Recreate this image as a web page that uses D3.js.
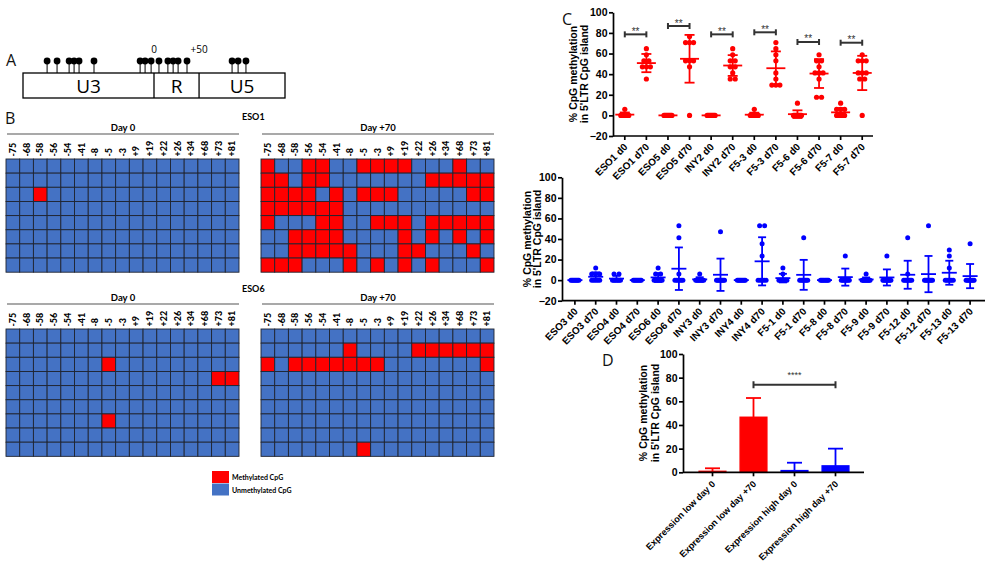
<!DOCTYPE html>
<html><head><meta charset="utf-8">
<script src="https://cdn.jsdelivr.net/npm/d3@7"></script>
<style>body{margin:0;background:#fff} svg{display:block}</style>
</head><body>
<svg id="c" width="992" height="562"></svg>
<script>
// ---------------- DATA ----------------
const cpgSites = ["-75","-68","-58","-56","-54","-41","-8","-5","-3","+9","+19","+22","+26","+34","+68","+73","+81"];
// schematic position of each CpG along the LTR bar (0-100 schematic units)
const cpgSchematicPos = [9.2,13,17.6,19.5,21.4,27.1,44.7,46.6,48.9,51.9,55.3,57.3,59.2,62.6,79.8,82.1,85.1];
const ltrRegions = ["U3","R","U5"];
const ltrBounds = [0,50,67.2,100];
const ltrMarkLabels = ["0","+50"];
const ltrMarkPos = [50,67.2];

const eso1Day0 = [
 [0,0,0,0,0,0,0,0,0,0,0,0,0,0,0,0,0],
 [0,0,0,0,0,0,0,0,0,0,0,0,0,0,0,0,0],
 [0,0,1,0,0,0,0,0,0,0,0,0,0,0,0,0,0],
 [0,0,0,0,0,0,0,0,0,0,0,0,0,0,0,0,0],
 [0,0,0,0,0,0,0,0,0,0,0,0,0,0,0,0,0],
 [0,0,0,0,0,0,0,0,0,0,0,0,0,0,0,0,0],
 [0,0,0,0,0,0,0,0,0,0,0,0,0,0,0,0,0],
 [0,0,0,0,0,0,0,0,0,0,0,0,0,0,0,0,0]];
const eso1Day70 = [
 [1,0,0,1,1,0,0,1,1,1,1,0,0,0,1,0,0],
 [1,1,0,1,1,0,0,0,0,0,0,0,1,1,1,1,1],
 [1,1,1,1,0,1,0,1,1,1,0,0,0,0,0,1,1],
 [1,1,1,1,1,1,0,0,0,0,0,0,0,0,0,0,0],
 [1,0,0,0,1,1,0,0,1,1,1,0,1,1,1,1,1],
 [0,0,1,1,1,1,0,0,0,0,1,0,1,0,1,0,1],
 [0,0,1,1,1,1,1,0,0,0,1,1,0,0,0,1,0],
 [1,1,1,0,0,0,1,0,1,0,1,0,1,0,0,0,1]];
const eso6Day0 = [
 [0,0,0,0,0,0,0,0,0,0,0,0,0,0,0,0,0],
 [0,0,0,0,0,0,0,0,0,0,0,0,0,0,0,0,0],
 [0,0,0,0,0,0,0,1,0,0,0,0,0,0,0,0,0],
 [0,0,0,0,0,0,0,0,0,0,0,0,0,0,0,1,1],
 [0,0,0,0,0,0,0,0,0,0,0,0,0,0,0,0,0],
 [0,0,0,0,0,0,0,0,0,0,0,0,0,0,0,0,0],
 [0,0,0,0,0,0,0,1,0,0,0,0,0,0,0,0,0],
 [0,0,0,0,0,0,0,0,0,0,0,0,0,0,0,0,0],
 [0,0,0,0,0,0,0,0,0,0,0,0,0,0,0,0,0]];
const eso6Day70 = [
 [0,0,0,0,0,0,0,0,0,0,0,0,0,0,0,0,0],
 [0,0,0,0,0,0,1,0,0,0,0,1,1,1,1,1,1],
 [1,0,1,1,1,1,1,1,1,0,0,0,0,0,0,0,1],
 [0,0,0,0,0,0,0,0,0,0,0,0,0,0,0,0,0],
 [0,0,0,0,0,0,0,0,0,0,0,0,0,0,0,0,0],
 [0,0,0,0,0,0,0,0,0,0,0,0,0,0,0,0,0],
 [0,0,0,0,0,0,0,0,0,0,0,0,0,0,0,0,0],
 [0,0,0,0,0,0,0,0,0,0,0,0,0,0,0,0,0],
 [0,0,0,0,0,0,0,1,0,0,0,0,0,0,0,0,0]];
const heatTitles = ["Day 0","Day +70"];
const heatSamples = ["ESO1","ESO6"];
const legendLabels = ["Methylated CpG","Unmethylated CpG"];

const topCats = ["ESO1 d0","ESO1 d70","ESO5 d0","ESO5 d70","INY2 d0","INY2 d70","F5-3 d0","F5-3 d70","F5-6 d0","F5-6 d70","F5-7 d0","F5-7 d70"];
const topValues = [
 [5.9,0,0,0,0,0,0,0],
 [52.9,52.9,58.8,35.3,64.7,47.1,47.1,47.1],
 [0,0,0,0,0,0,0,0,0],
 [76.5,70.6,70.6,70.6,52.9,52.9,52.9,47.1,0],
 [0,0,0,0,0,0,0,0,0],
 [64.7,58.8,52.9,52.9,47.1,47.1,41.2,35.3,35.3],
 [5.9,0,0,0,0,0,0,0,0],
 [70.6,64.7,58.8,52.9,41.2,35.3,29.4,29.4,29.4],
 [11.8,0,0,0,0,0,0,0,0,0],
 [58.8,52.9,52.9,47.1,41.2,41.2,41.2,35.3,17.6,17.6],
 [11.8,5.9,5.9,5.9,0,0,0,0,0,0],
 [58.8,52.9,52.9,52.9,41.2,41.2,41.2,35.3,35.3,0]];
const topSigPairs = [[0,1],[2,3],[4,5],[6,7],[8,9],[10,11]];
const topSigY = [78.6,86.7,78.6,80.6,71.2,70.5];
const topSigLabel = "**";

const bottomCats = ["ESO3 d0","ESO3 d70","ESO4 d0","ESO4 d70","ESO6 d0","ESO6 d70","INY3 d0","INY3 d70","INY4 d0","INY4 d70","F5-1 d0","F5-1 d70","F5-8 d0","F5-8 d70","F5-9 d0","F5-9 d70","F5-12 d0","F5-12 d70","F5-13 d0","F5-13 d70"];
const bottomValues = [
 [0,0,0,0,0,0,0,0],
 [11.8,5.9,5.9,5.9,0,0,0,0,0],
 [5.9,5.9,0,0,0,0,0,0],
 [0,0,0,0,0,0,0,0],
 [0,0,5.9,11.8,0,0,5.9,0,0],
 [0,41.2,52.9,0,0,0,0,0,5.9],
 [5.9,0,0,0,0,0,0,0],
 [47.1,0,0,0,0,0,0,0,0],
 [0,0,0,0,0,0,0,0],
 [52.9,52.9,35.3,23.5,0,0,0,0,0],
 [11.8,5.9,0,0,0,0,0,0,0],
 [41.2,0,0,0,0,0,0,0],
 [0,0,0,0,0,0,0,0],
 [23.5,0,0,0,0,0,0,0],
 [5.9,0,0,0,0,0,0,0,0],
 [23.5,0,0,0,0,0,0,0,0],
 [41.2,5.9,0,0,0,0,0,0,0],
 [52.9,0,0,0,0,0,0,0,0],
 [29.4,23.5,11.8,0,0,0,0,0,0],
 [35.3,0,0,0,0,0,0,0,0]];
const scatterTicks = [-20,0,20,40,60,80,100];

const dCats = ["Expression low day 0","Expression low day +70","Expression high day 0","Expression high day +70"];
const dGroup = ["low","low","high","high"];
const dMeans = [0.8,46.5,1.4,5.4];
const dSD = [2.6,16.3,6.7,14.6];
const dTicks = [0,20,40,60,80,100];
const dSigPair = [1,3];
const dSigY = 74;
const dSigLabel = "****";

const yLabelLines = ["% CpG methylation","in 5'LTR CpG island"];

// ---------------- DRAW ----------------
const svg = d3.select("#c");
const PRISM = "'Liberation Sans', Arial, sans-serif";
const HMF = "Lato, 'Open Sans', sans-serif";
const RED = "#ff0000", BLUE = "#0000ff", HMRED = "#ff0000", HMBLUE = "#4472c4";

function letter(t, x, y) {
  svg.append("text").attr("x", x).attr("y", y).text(t)
    .attr("font-family", "'Open Sans', sans-serif").attr("font-size", 16).attr("fill", "#111");
}
letter("A", 6, 66); letter("B", 5, 124); letter("C", 562, 25); letter("D", 602, 366);

// ---- Panel A ----
(function(){
  const ax = d3.scaleLinear().domain([0,100]).range([23,285]);
  const g = svg.append("g");
  const y0 = 73, h = 25;
  g.append("rect").attr("x", ax(0)).attr("y", y0).attr("width", ax(100)-ax(0)).attr("height", h)
    .attr("fill", "none").attr("stroke", "#000").attr("stroke-width", 1.3);
  ltrBounds.slice(1, -1).forEach(b => g.append("line").attr("x1", ax(b)).attr("x2", ax(b))
    .attr("y1", y0).attr("y2", y0+h).attr("stroke", "#000").attr("stroke-width", 1.3));
  ltrRegions.forEach((r, i) => g.append("text").attr("x", ax((ltrBounds[i]+ltrBounds[i+1])/2)).attr("y", y0+20)
    .attr("text-anchor", "middle").attr("font-family", "'Open Sans', sans-serif").attr("font-size", 19).text(r));
  cpgSchematicPos.forEach(p => {
    g.append("line").attr("x1", ax(p)).attr("x2", ax(p)).attr("y1", 61).attr("y2", y0).attr("stroke", "#000").attr("stroke-width", 1);
    g.append("circle").attr("cx", ax(p)).attr("cy", 61).attr("r", 3.4).attr("fill", "#000");
  });
  ltrMarkLabels.forEach((l, i) => g.append("text").attr("x", ax(ltrMarkPos[i])).attr("y", 52.5)
    .attr("text-anchor", "middle").attr("font-family", "'Open Sans', sans-serif").attr("font-size", 10).text(l));
})();

// ---- Panel B heatmaps ----
function heatmap(data, x0, y0, title) {
  const nR = data.length;
  const xs = d3.scaleBand().domain(cpgSites).range([x0, x0+233]);
  const ys = d3.scaleBand().domain(d3.range(nR)).range([y0, y0 + nR*14.15]);
  const g = svg.append("g");
  data.forEach((row, r) => row.forEach((v, c) => {
    g.append("rect").attr("x", xs(cpgSites[c])).attr("y", ys(r))
      .attr("width", xs.bandwidth()).attr("height", ys.bandwidth())
      .attr("fill", v ? HMRED : HMBLUE).attr("stroke", "#1f2430").attr("stroke-width", 0.9);
  }));
  cpgSites.forEach(s => g.append("text")
    .attr("transform", `translate(${xs(s)+xs.bandwidth()/2+3.2},${y0-2.5}) rotate(-90)`)
    .attr("font-family", HMF).attr("font-weight", "900").attr("font-size", 9).text(s));
  g.append("line").attr("x1", x0+1).attr("x2", x0+233).attr("y1", y0-25).attr("y2", y0-25)
    .attr("stroke", "#555").attr("stroke-width", 1.2);
  g.append("text").attr("x", x0+117).attr("y", y0-28).attr("text-anchor", "middle")
    .attr("font-family", HMF).attr("font-weight", "bold").attr("font-size", 9.5).text(title);
}
heatmap(eso1Day0, 6, 159, heatTitles[0]);
heatmap(eso1Day70, 261, 159, heatTitles[1]);
heatmap(eso6Day0, 6, 329, heatTitles[0]);
heatmap(eso6Day70, 261, 329, heatTitles[1]);
[[heatSamples[0], 120], [heatSamples[1], 292]].forEach(([t, y]) => svg.append("text").attr("x", 242).attr("y", y)
  .attr("font-family", HMF).attr("font-weight", "bold").attr("font-size", 9).text(t));
// legend
legendLabels.forEach((l, i) => {
  svg.append("rect").attr("x", 212).attr("y", 471 + i*12.5).attr("width", 17).attr("height", 12)
    .attr("fill", i === 0 ? HMRED : HMBLUE);
  svg.append("text").attr("x", 232).attr("y", 480 + i*12.5).attr("font-family", HMF).attr("font-weight", "bold")
    .attr("font-size", 7).text(l);
});

// ---- Y axis label helper ----
function yLabel(xBase, yc, gap) {
  yLabelLines.forEach((t, i) => svg.append("text")
    .attr("transform", `translate(${xBase + i*gap},${yc}) rotate(-90)`)
    .attr("text-anchor", "middle").attr("font-family", PRISM).attr("font-weight", "bold")
    .attr("font-size", 10.5).text(t));
}

// ---- Panel C scatter ----
function scatter(cats, values, color, o) {
  const x = d3.scaleBand().domain(cats).range(o.xr);
  const y = d3.scaleLinear().domain([-20, 100]).range(o.yr);
  const g = svg.append("g");
  const bw = x.bandwidth();
  cats.forEach((c, i) => {
    const cx = x(c) + bw/2;
    const grp = d3.group(values[i], v => v);
    grp.forEach((arr, v) => {
      const k = arr.length;
      const s = k > 1 ? Math.min(5, 8/(k-1)) : 0;
      arr.forEach((_, j) => g.append("circle").attr("cx", cx + (j - (k-1)/2)*s).attr("cy", y(v))
        .attr("r", o.r).attr("fill", color));
    });
  });
  cats.forEach((c, i) => {
    const cx = x(c) + bw/2;
    const m = d3.mean(values[i]), sd = d3.deviation(values[i]);
    const ln = (x1, y1, x2, y2) => g.append("line").attr("x1", x1).attr("y1", y1).attr("x2", x2).attr("y2", y2)
      .attr("stroke", color).attr("stroke-width", 1.8);
    ln(cx - o.meanW/2, y(m), cx + o.meanW/2, y(m));
    ln(cx, y(m-sd), cx, y(m+sd));
    ln(cx - o.capW/2, y(m-sd), cx + o.capW/2, y(m-sd));
    ln(cx - o.capW/2, y(m+sd), cx + o.capW/2, y(m+sd));
  });
  const ya = g.append("g").attr("transform", `translate(${o.ax},0)`)
    .call(d3.axisLeft(y).tickValues(scatterTicks).tickSize(4).tickSizeOuter(0).tickPadding(1.5));
  ya.selectAll("path,line").attr("stroke", "#000").attr("stroke-width", 1.7);
  ya.selectAll("text").attr("font-family", PRISM).attr("font-weight", "bold").attr("font-size", 10.5).attr("fill", "#000");
  const axY = y(-20);
  g.append("line").attr("x1", o.ax).attr("x2", o.xEnd).attr("y1", axY).attr("y2", axY)
    .attr("stroke", "#000").attr("stroke-width", 1.7);
  cats.forEach(c => {
    const cx = x(c) + bw/2;
    g.append("line").attr("x1", cx).attr("x2", cx).attr("y1", axY).attr("y2", axY+4)
      .attr("stroke", "#000").attr("stroke-width", 1.7);
    g.append("text").attr("transform", `translate(${cx+1},${axY+9}) rotate(-45)`)
      .attr("text-anchor", "end").attr("dy", "0.35em").attr("font-family", PRISM).attr("font-weight", "bold")
      .attr("font-size", 10).text(c);
  });
  return {x, y, g};
}

const topC = scatter(topCats, topValues, RED, {xr:[614, 873], yr:[136, 12.3], ax:613, xEnd:873, r:2.6, meanW:19, capW:10});
topSigPairs.forEach((p, i) => {
  const bw = topC.x.bandwidth();
  const x1 = topC.x(topCats[p[0]]) + bw/2, x2 = topC.x(topCats[p[1]]) + bw/2, yy = topC.y(topSigY[i]);
  const st = s => s.attr("stroke", "#333").attr("stroke-width", 2);
  st(topC.g.append("line").attr("x1", x1).attr("x2", x2).attr("y1", yy).attr("y2", yy));
  st(topC.g.append("line").attr("x1", x1).attr("x2", x1).attr("y1", yy-3).attr("y2", yy+3));
  st(topC.g.append("line").attr("x1", x2).attr("x2", x2).attr("y1", yy-3).attr("y2", yy+3));
  topC.g.append("text").attr("x", (x1+x2)/2).attr("y", yy+0.5).attr("text-anchor", "middle")
    .attr("font-family", PRISM).attr("font-size", 10).attr("fill", "#333").text(topSigLabel);
});
yLabel(577, 74, 10.5);

scatter(bottomCats, bottomValues, BLUE, {xr:[564.5, 980.5], yr:[300.7, 177.3], ax:562, xEnd:985, r:2.5, meanW:15, capW:8});
yLabel(530.5, 239, 10.5);

// ---- Panel D bars ----
(function(){
  const x = d3.scaleBand().domain(dCats).range([692, 856]).paddingInner(0.35).paddingOuter(0.175);
  const y = d3.scaleLinear().domain([0, 100]).range([472.3, 354]);
  const col = {low: RED, high: BLUE};
  const g = svg.append("g");
  dCats.forEach((c, i) => {
    const cl = col[dGroup[i]];
    const cx = x(c) + x.bandwidth()/2;
    g.append("rect").attr("x", x(c)).attr("y", y(dMeans[i])).attr("width", x.bandwidth())
      .attr("height", y(0) - y(dMeans[i])).attr("fill", cl).attr("stroke", cl).attr("stroke-width", 1.5);
    g.append("line").attr("x1", cx).attr("x2", cx).attr("y1", y(dMeans[i])).attr("y2", y(dMeans[i]+dSD[i]))
      .attr("stroke", cl).attr("stroke-width", 1.8);
    g.append("line").attr("x1", cx-7.5).attr("x2", cx+7.5).attr("y1", y(dMeans[i]+dSD[i])).attr("y2", y(dMeans[i]+dSD[i]))
      .attr("stroke", cl).attr("stroke-width", 1.8);
  });
  const ya = g.append("g").attr("transform", "translate(683,0)")
    .call(d3.axisLeft(y).tickValues(dTicks).tickSize(4).tickSizeOuter(0).tickPadding(1.5));
  ya.selectAll("path,line").attr("stroke", "#000").attr("stroke-width", 1.7);
  ya.selectAll("text").attr("font-family", PRISM).attr("font-weight", "bold").attr("font-size", 10.5).attr("fill", "#000");
  const axY = y(0);
  g.append("line").attr("x1", 683).attr("x2", 864).attr("y1", axY).attr("y2", axY).attr("stroke", "#000").attr("stroke-width", 1.7);
  dCats.forEach(c => {
    const cx = x(c) + x.bandwidth()/2;
    g.append("line").attr("x1", cx).attr("x2", cx).attr("y1", axY).attr("y2", axY+4).attr("stroke", "#000").attr("stroke-width", 1.7);
    g.append("text").attr("transform", `translate(${cx+1},${axY+10}) rotate(-45)`)
      .attr("text-anchor", "end").attr("dy", "0.35em").attr("font-family", PRISM).attr("font-weight", "bold")
      .attr("font-size", 9.2).text(c);
  });
  const x1 = x(dCats[dSigPair[0]]) + x.bandwidth()/2, x2 = x(dCats[dSigPair[1]]) + x.bandwidth()/2, yy = y(dSigY);
  const st = s => s.attr("stroke", "#333").attr("stroke-width", 2);
  st(g.append("line").attr("x1", x1).attr("x2", x2).attr("y1", yy).attr("y2", yy));
  st(g.append("line").attr("x1", x1).attr("x2", x1).attr("y1", yy-3.5).attr("y2", yy+3.5));
  st(g.append("line").attr("x1", x2).attr("x2", x2).attr("y1", yy-3.5).attr("y2", yy+3.5));
  g.append("text").attr("x", (x1+x2)/2).attr("y", yy-7).attr("text-anchor", "middle")
    .attr("font-family", PRISM).attr("font-size", 9).attr("fill", "#333").text(dSigLabel);
})();
yLabel(647, 413, 11.5);
</script>
</body></html>
